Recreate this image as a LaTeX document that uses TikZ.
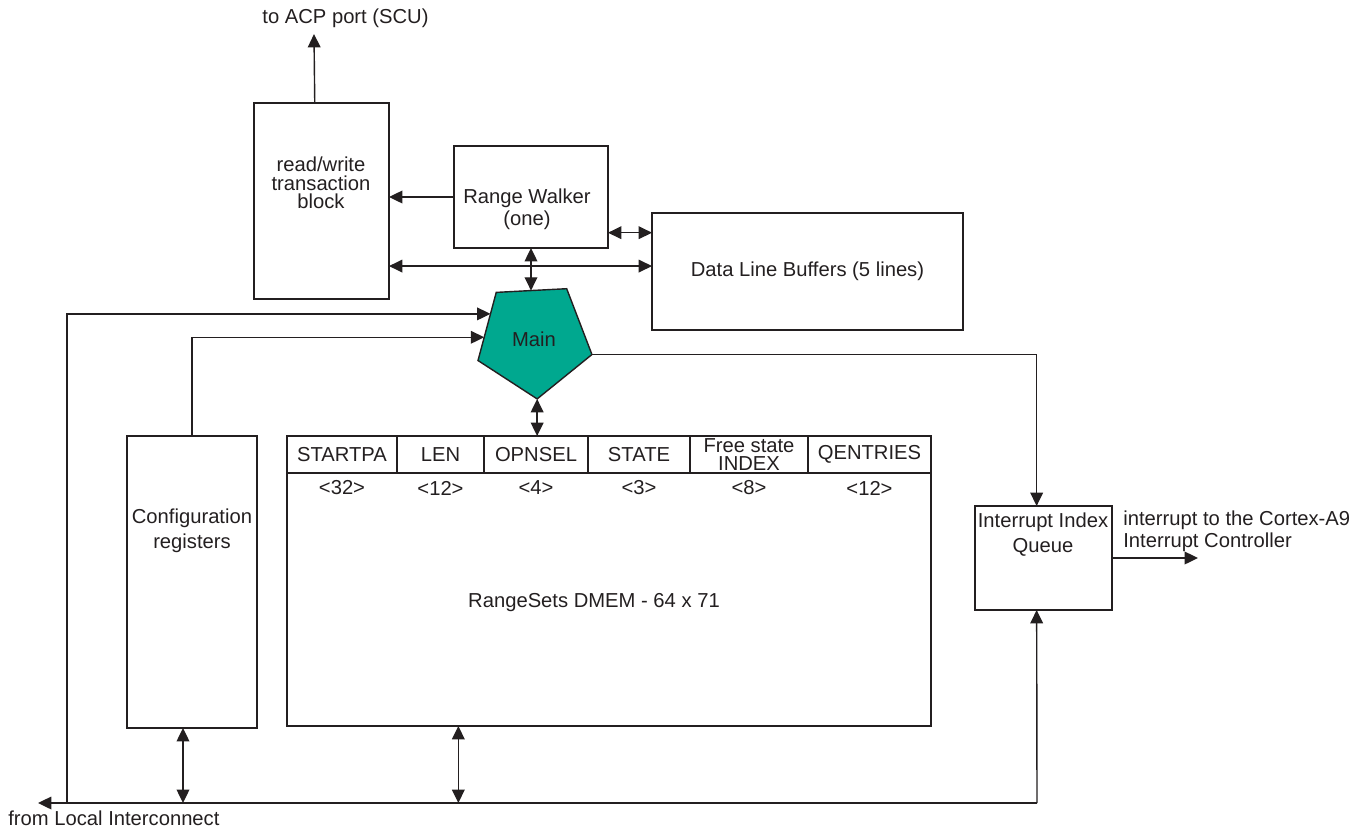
\documentclass[tikz,border=0pt]{standalone}
\usepackage{fontspec}
\setmainfont{Liberation Sans}
\usepackage{xcolor}
\definecolor{blkLine}{HTML}{231F20}
\definecolor{blkMain}{HTML}{00A88F}
\usetikzlibrary{arrows.meta,calc,positioning,shapes.geometric}
\tikzset{
  blk/.style={draw=blkLine, line width=0.8pt, inner sep=0pt, outer sep=0pt},
  lbl/.style={text=blkLine, font=\fontsize{11.5}{12.5}\selectfont, align=center, inner sep=0pt},
  wire/.style={draw=blkLine, line width=0.8pt},
  arr/.style={wire, -{Triangle[length=7.6pt,width=7.2pt]}},
  dbl/.style={wire, {Triangle[length=7.6pt,width=7.2pt]}-{Triangle[length=7.6pt,width=7.2pt]}},
}

\begin{document}
\begin{tikzpicture}[x=0.02cm, y=-0.02cm]
  \useasboundingbox (0,0) rectangle (1359,829);
  \node[blk, minimum width=2.7cm, minimum height=3.92cm] (rw) at (321.5,201) {};
  \node[lbl, font=\fontsize{11.5}{10.4}\selectfont] (rwtxt) at (321,183) {read/write\\transaction\\block};
  \node[blk, minimum width=3.08cm, minimum height=2.04cm] (walk) at (531,197) {};
  \node[lbl] (walktxt) at (527,209) {Range Walker\\(one)};
  \node[blk, lbl, minimum width=6.22cm, minimum height=2.34cm] (dlb) at (807.5,271.5) {Data Line Buffers (5 lines)};
  \node[regular polygon, regular polygon sides=5, shape border rotate=183, minimum size=2.4cm, blk, lbl, fill=blkMain] (main) at (534,339) {Main};
  \node[blk, minimum width=2.6cm, minimum height=5.84cm] (cfg) at (192,582) {};
  \node[lbl, font=\fontsize{11.5}{14}\selectfont] (cfgtxt) at (192,530.5) {Configuration\\registers};
  \node[blk, minimum width=12.88cm, minimum height=5.8cm] (tbl) at (609,581) {};
  \node[lbl] (tbltxt) at (594,603) {RangeSets DMEM - 64 x 71};
  \foreach \l/\r/\hd/\sz [count=\i] in {287/397/STARTPA/<32>, 397/484/LEN/<12>, 484/588/OPNSEL/<4>, 588/690/STATE/<3>, 690/808/Free state\\INDEX/<8>, 808/931/QENTRIES/<12>} {
    \node[blk, lbl, font=\fontsize{11.5}{10}\selectfont, minimum width=(\r-\l)*0.02cm, minimum height=0.74cm] (hd\i) at ({(\l+\r)/2},454.5) {\hd};
    \node[lbl] (sz\i) at ({(\l+\r)/2},488) {\sz};
  }
  \node[blk, minimum width=2.74cm, minimum height=2.08cm] (iiq) at (1043.5,558) {};
  \node[lbl, font=\fontsize{11.5}{14}\selectfont] (iiqtxt) at (1043,534.5) {Interrupt Index\\Queue};
  \node[lbl] (acptxt) at (345.5,18) {to ACP port (SCU)};
  \node[lbl, anchor=west] (loctxt) at (8,818) {from Local Interconnect};
  \node[lbl, align=left, anchor=west] (irqtxt) at (1123,531) {interrupt to the Cortex-A9\\Interrupt Controller};
  \coordinate (acp) at (314,34);
  \coordinate (busR) at (1037,803);
  \coordinate (busL) at (38,803);
  \coordinate (tap) at (67,803);
  \draw[arr] ($(rw.north west)!0.45!(rw.north east)$) -- (acp);
  \draw[arr] (walk.west) -- (walk.west -| rw.east);
  \draw[dbl] ($(walk.south east)!0.15!(walk.north east)$) coordinate (w1) -- (w1 -| dlb.west);
  \draw[dbl] ($(rw.south east)!0.168!(rw.north east)$) coordinate (r1) -- (r1 -| dlb.west);
  \draw[dbl] (walk.south) -- (walk.south |- main.95);
  \draw[dbl] (main.273) -- (main.273 |- tbl.north);
  \draw[arr] (tap) |- (main.150);
  \draw[arr] (cfg.north) |- (main.178);
  \draw[arr] (main.345) -| ($(iiq.north west)!0.45!(iiq.north east)$);
  \draw[arr] (busR) -- ($(iiq.south west)!0.45!(iiq.south east)$);
  \draw[arr] (busR) -- (busL);
  \draw[dbl] ($(cfg.south)+(-9,0)$) coordinate (c1) -- (c1 |- busR);
  \draw[dbl] ($(tbl.south west)!0.266!(tbl.south east)$) coordinate (t1) -- (t1 |- busR);
  \draw[arr] (iiq.east) -- ++(86,0);
\end{tikzpicture}
\end{document}
